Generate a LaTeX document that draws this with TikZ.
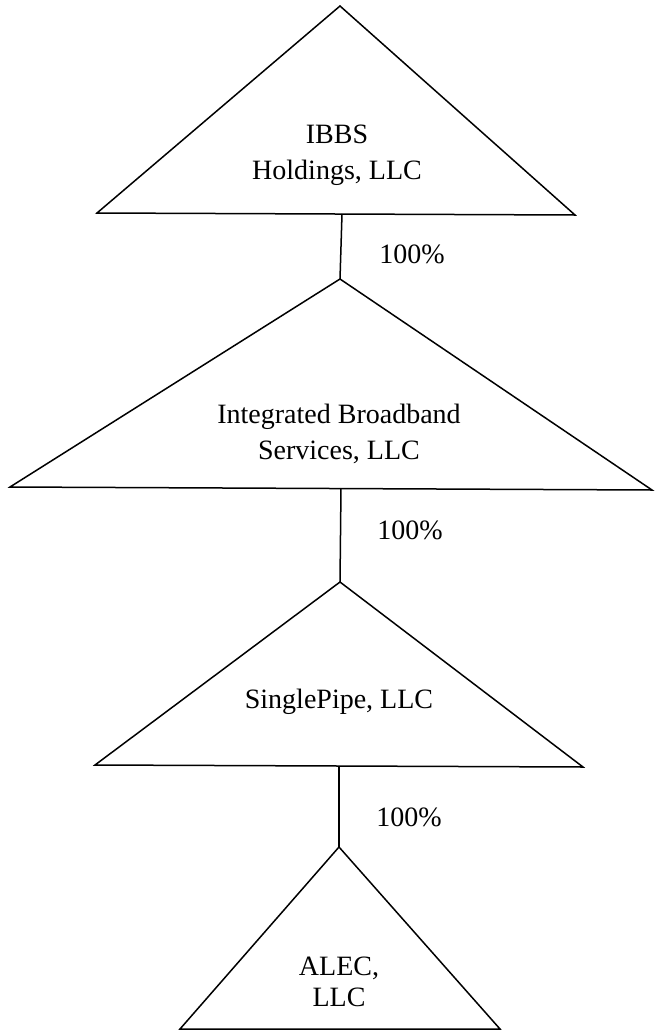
\documentclass[tikz,border=0pt]{standalone}
\usepackage{fontspec}
\setmainfont{Liberation Serif}
\begin{document}
\begin{tikzpicture}[x=1pt,y=-1pt,
  tri/.style={draw=black,line width=1.5pt,line join=miter},
  link/.style={draw=black,line width=1.5pt},
  ent/.style={align=center,inner sep=0pt,font=\fontsize{28}{36}\selectfont},
  pct/.style={inner sep=0pt,font=\fontsize{28}{34}\selectfont}]
\useasboundingbox (0,0) rectangle (656,1031);
% triangle 1
\coordinate (a1) at (340,6);
\coordinate (l1) at (97,213);
\coordinate (r1) at (575,215);
\coordinate (b1) at (342,214);
% triangle 2
\coordinate (a2) at (340,279);
\coordinate (l2) at (10,487);
\coordinate (r2) at (652,490);
\coordinate (b2) at (341,488);
% triangle 3
\coordinate (a3) at (340,582);
\coordinate (l3) at (95,765);
\coordinate (r3) at (583,767);
\coordinate (b3) at (339,766);
% triangle 4
\coordinate (a4) at (339,847);
\coordinate (l4) at (180,1029);
\coordinate (r4) at (500,1029);

\draw[tri] (a1) -- (l1) -- (r1) -- cycle;
\draw[tri] (a2) -- (l2) -- (r2) -- cycle;
\draw[tri] (a3) -- (l3) -- (r3) -- cycle;
\draw[tri] (a4) -- (l4) -- (r4) -- cycle;

\draw[link] (b1) -- (a2);
\draw[link] (b2) -- (a3);
\draw[link] (b3) -- (a4);

\node[ent] (n1) at (337,155) {IBBS\\Holdings, LLC};
\node[ent] (n2) at (339,434) {Integrated Broadband\\Services, LLC};
\node[ent] (n3) at (339,702) {SinglePipe, LLC};
\node[ent,font=\fontsize{28}{31}\selectfont] (n4) at (339,982) {ALEC,\\LLC};

\node[pct] (p1) at (412,254) {100\%};
\node[pct] (p2) at (410,530) {100\%};
\node[pct] (p3) at (409,817) {100\%};
\end{tikzpicture}
\end{document}
